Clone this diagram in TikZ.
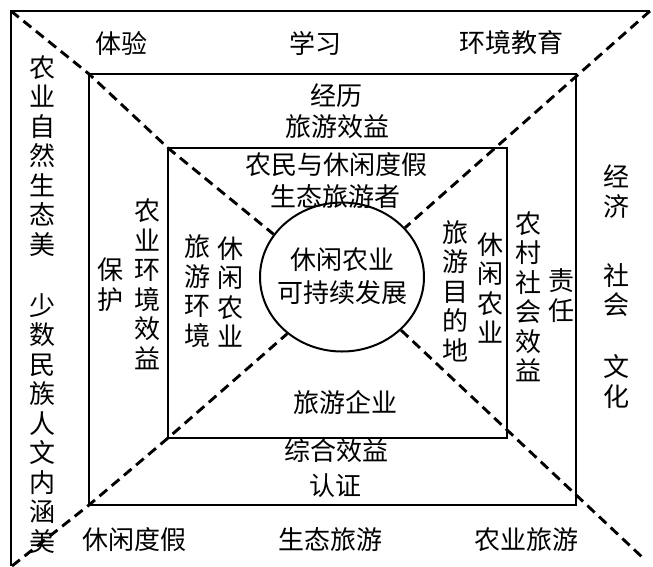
\documentclass[tikz,border=0pt]{standalone}
\usepackage{fontspec}
\newfontfamily\cjk{Noto Sans CJK SC}
\usetikzlibrary{shapes.geometric}
\begin{document}
\begin{tikzpicture}[x=1pt,y=-1pt,
  lbl/.style={font=\cjk\fontsize{26}{29.5}\selectfont, inner sep=0pt, align=center},
  boxline/.style={line width=2.5pt},
  dashline/.style={line width=2.9pt, dash pattern=on 10pt off 6pt},
  hub/.style={draw, ellipse, line width=2pt, minimum width=164pt, minimum height=149pt, inner sep=0pt}
]
\useasboundingbox (0,0) rectangle (653,566);
% frame corners
\coordinate (o1) at (11,566);
\coordinate (o2) at (11,11);
\coordinate (o3) at (650,11);
\coordinate (m1) at (89,74);
\coordinate (m3) at (576,505);
\coordinate (m4) at (89,505);
\coordinate (i1) at (168,148);
\coordinate (i3) at (507,438);
\coordinate (i4) at (168,438);
\coordinate (bl) at (12,566);
\coordinate (br) at (642,557);
% hub
\node[hub] (c) at (342,277) {};
\draw[boxline] (o1) -- (o2) -- (o3);
\draw[boxline] (m1) rectangle (m3);
\draw[boxline] (i1) rectangle (i3);
\draw[dashline] (o2) -- (m1) -- (i1) -- (c.148);
\draw[dashline] (o3) -- (c.38);
\draw[dashline] (bl) -- (m4) -- (i4) -- (c.226);
\draw[dashline] (c.318) -- (br);
% top row
\node[lbl] (t1) at (121,43) {体验};
\node[lbl] (t2) at (315,43) {学习};
\node[lbl] (t3) at (511,43) {环境教育};
% bottom row
\node[lbl] (b1) at (134,540) {休闲度假};
\node[lbl] (b2) at (330,540) {生态旅游};
\node[lbl] (b3) at (526,540) {农业旅游};
% middle top
\node[lbl] (mt1) at (336,96) {经历};
\node[lbl] (mt2) at (337,127) {旅游效益};
\node[lbl] (it1) at (336,165) {农民与休闲度假};
\node[lbl] (it2) at (335,197) {生态旅游者};
% hub text
\node[lbl] (h1) at (342,260) {休闲农业};
\node[lbl] (h2) at (342,293) {可持续发展};
% bottom inner
\node[lbl] (ib) at (345,402) {旅游企业};
\node[lbl] (mb1) at (336,451) {综合效益};
\node[lbl] (mb2) at (335,486) {认证};
% left columns
\node[lbl] (l1) at (42,156) {农\\业\\自\\然\\生\\态\\美};
\node[lbl] (l2) at (42,423.5) {少\\数\\民\\族\\人\\文\\内\\涵\\美};
\node[lbl] (l3) at (110,284.5) {保\\护};
\node[lbl] (l4) at (147,284) {农\\业\\环\\境\\效\\益};
\node[lbl] (l5) at (197,291) {旅\\游\\环\\境};
\node[lbl] (l6) at (230,292) {休\\闲\\农\\业};
% right columns
\node[lbl] (r1) at (455,291) {旅\\游\\目\\的\\地};
\node[lbl] (r2) at (490,288) {休\\闲\\农\\业};
\node[lbl] (r3) at (528,296.5) {农\\村\\社\\会\\效\\益};
\node[lbl] (r4) at (561,295.5) {责\\任};
\node[lbl] (r5) at (616,191.5) {经\\济};
\node[lbl] (r6) at (616,290) {社\\会};
\node[lbl] (r7) at (616,381.5) {文\\化};
\end{tikzpicture}
\end{document}
